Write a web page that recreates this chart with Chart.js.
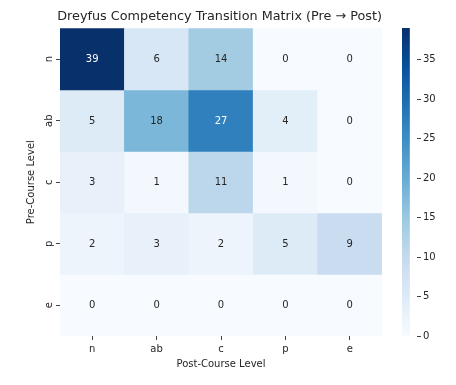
<!DOCTYPE html>
<html>
<head>
<meta charset="utf-8">
<script src="https://cdn.jsdelivr.net/npm/chart.js@4.4.1/dist/chart.umd.min.js"></script>
<style>
  html, body { margin: 0; padding: 0; background: #ffffff; }
  body { width: 456px; height: 385px; position: relative; overflow: hidden; }
  #main { position: absolute; left: 0; top: 0; }
  #cbar { position: absolute; left: 380px; top: 0; }
</style>
</head>
<body>
<canvas id="main" width="456" height="385"></canvas>
<canvas id="cbar" width="76" height="385"></canvas>
<script>
// ---- Data ----
const postLevels = ['n', 'ab', 'c', 'p', 'e'];   // columns (x)
const preLevels  = ['n', 'ab', 'c', 'p', 'e'];   // rows (y)
const row_n  = [39, 6, 14, 0, 0];
const row_ab = [5, 18, 27, 4, 0];
const row_c  = [3, 1, 11, 1, 0];
const row_p  = [2, 3, 2, 5, 9];
const row_e  = [0, 0, 0, 0, 0];
const matrixRows = [row_n, row_ab, row_c, row_p, row_e];
const colorbarTicks = [0, 5, 10, 15, 20, 25, 30, 35];
const vMin = 0;
const vMax = 39;

const chartTitle = 'Dreyfus Competency Transition Matrix (Pre \u2192 Post)';
const xTitle = 'Post-Course Level';
const yTitle = 'Pre-Course Level';

// ---- Blues colormap (matplotlib) ----
const BLUES = ['#f7fbff','#deebf7','#c6dbef','#9ecae1','#6baed6','#4292c6','#2171b5','#08519c','#08306b'];
function hexToRgb(h) { return [parseInt(h.substr(1,2),16), parseInt(h.substr(3,2),16), parseInt(h.substr(5,2),16)]; }
const BLUES_RGB = BLUES.map(hexToRgb);
function bluesRgb(t) {
  t = Math.max(0, Math.min(1, t));
  const pos = t * (BLUES_RGB.length - 1);
  const i = Math.min(Math.floor(pos), BLUES_RGB.length - 2);
  const f = pos - i;
  const a = BLUES_RGB[i], b = BLUES_RGB[i + 1];
  return [0,1,2].map(k => a[k] + (b[k] - a[k]) * f);
}
function bluesColor(v) {
  const c = bluesRgb((v - vMin) / (vMax - vMin));
  return 'rgb(' + c.map(x => Math.round(x)).join(',') + ')';
}
function textColorFor(v) {
  const c = bluesRgb((v - vMin) / (vMax - vMin)).map(x => {
    x = x / 255;
    return x <= 0.03928 ? x / 12.92 : Math.pow((x + 0.055) / 1.055, 2.4);
  });
  const lum = 0.2126 * c[0] + 0.7152 * c[1] + 0.0722 * c[2];
  return lum > 0.408 ? '#262626' : '#ffffff';
}

const FONT = "'DejaVu Sans', 'Liberation Sans', sans-serif";
const TXT = '#262626';

// ---- Main heatmap ----
const datasets = matrixRows.map((row, i) => ({
  label: preLevels[i],
  data: postLevels.map(() => [i, i + 1]),
  values: row,
  backgroundColor: row.map(v => bluesColor(v)),
  borderColor: row.map(v => bluesColor(v)),
  borderWidth: 0,
  borderSkipped: false,
  barPercentage: 1.0,
  categoryPercentage: 1.0,
  grouped: false
}));

const annotatePlugin = {
  id: 'annotate',
  afterDatasetsDraw(chart) {
    const ctx = chart.ctx;
    ctx.save();
    ctx.font = '10px ' + FONT;
    ctx.textAlign = 'center';
    ctx.textBaseline = 'middle';
    chart.data.datasets.forEach((ds, di) => {
      const meta = chart.getDatasetMeta(di);
      meta.data.forEach((el, j) => {
        const v = ds.values[j];
        ctx.fillStyle = textColorFor(v);
        ctx.fillText(String(v), el.x, (el.y + el.base) / 2 + 0.5);
      });
    });
    // rotated y tick labels
    const ys = chart.scales.y;
    ctx.fillStyle = TXT;
    preLevels.forEach((lab, i) => {
      const py = ys.getPixelForValue(i + 0.5);
      ctx.save();
      ctx.translate(49, py);
      ctx.rotate(-Math.PI / 2);
      ctx.textAlign = 'center';
      ctx.textBaseline = 'middle';
      ctx.fillText(lab, 0, 0);
      ctx.restore();
    });
    ctx.restore();
  }
};

new Chart(document.getElementById('main'), {
  type: 'bar',
  data: { labels: postLevels, datasets: datasets },
  options: {
    responsive: false,
    animation: false,
    devicePixelRatio: 1,
    layout: { padding: { left: 0, right: 74, top: 0, bottom: 0 } },
    plugins: {
      legend: { display: false },
      tooltip: { enabled: false },
      title: {
        display: true,
        text: chartTitle,
        align: 'end',
        color: TXT,
        font: { family: FONT, size: 12.8, weight: 'normal', lineHeight: 1.2 },
        padding: { top: 9, bottom: 4 }
      }
    },
    scales: {
      x: {
        type: 'category',
        offset: true,
        grid: { display: true, offset: false, drawOnChartArea: false, drawTicks: true, tickLength: 4, tickColor: '#444' },
        border: { display: false },
        ticks: { color: TXT, font: { family: FONT, size: 10 }, padding: 3, maxRotation: 0, minRotation: 0 },
        title: { display: true, text: xTitle, color: TXT, font: { family: FONT, size: 10 }, padding: { top: 0, bottom: 15 } },
        afterFit(scale) { scale.height = 49; }
      },
      y: {
        type: 'linear',
        min: 0,
        max: 5,
        reverse: true,
        afterBuildTicks(scale) { scale.ticks = preLevels.map((_, i) => ({ value: i + 0.5 })); },
        grid: { display: true, drawOnChartArea: false, drawTicks: true, tickLength: 4, tickColor: '#444' },
        border: { display: false },
        ticks: { display: false },
        title: { display: true, text: yTitle, color: TXT, font: { family: FONT, size: 10 }, padding: { top: 25, bottom: 0 } },
        afterFit(scale) { scale.width = 60; }
      }
    }
  },
  plugins: [annotatePlugin]
});

// ---- Colorbar ----
new Chart(document.getElementById('cbar'), {
  type: 'bar',
  data: {
    labels: [''],
    datasets: [{
      data: [[vMin, vMax]],
      borderWidth: 0,
      borderSkipped: false,
      barPercentage: 1.0,
      categoryPercentage: 1.0,
      backgroundColor(context) {
        const area = context.chart.chartArea;
        if (!area) return BLUES[4];
        const g = context.chart.ctx.createLinearGradient(0, area.bottom, 0, area.top);
        BLUES.forEach((c, i) => g.addColorStop(i / (BLUES.length - 1), c));
        return g;
      }
    }]
  },
  options: {
    responsive: false,
    animation: false,
    devicePixelRatio: 1,
    layout: { padding: { left: 22, right: 0, top: 28, bottom: 49 } },
    plugins: { legend: { display: false }, tooltip: { enabled: false }, title: { display: false } },
    scales: {
      x: { display: false, offset: false },
      y: {
        type: 'linear',
        position: 'right',
        min: vMin,
        max: vMax,
        afterBuildTicks(scale) { scale.ticks = colorbarTicks.map(v => ({ value: v })); },
        grid: { display: true, drawOnChartArea: false, drawTicks: true, tickLength: 4, tickColor: '#444' },
        border: { display: false },
        ticks: { color: TXT, font: { family: FONT, size: 10 }, padding: 2 },
        afterFit(scale) { scale.width = 39; }
      }
    }
  }
});
</script>
</body>
</html>
